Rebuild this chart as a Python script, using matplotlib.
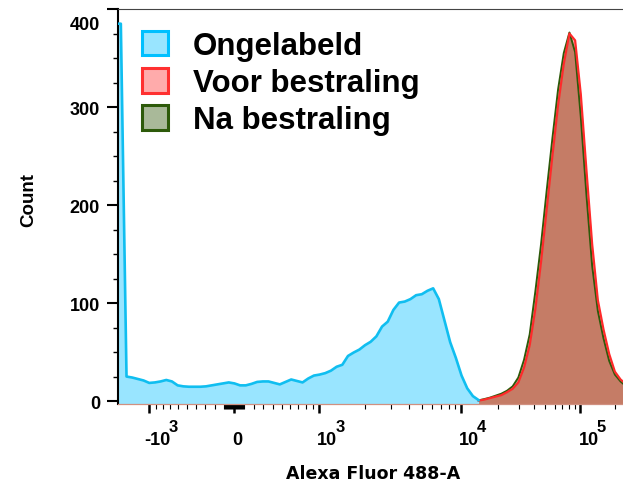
import numpy as np
import matplotlib
matplotlib.use("Agg")
import matplotlib.pyplot as plt
from matplotlib.patches import Patch
from matplotlib import transforms

# ---------------- data (counts per logicle display bin) ----------------
series_names = ["Ongelabeld", "Voor bestraling", "Na bestraling"]
n_bins = 90
ongelabeld = [385, 25, 24, 22.5, 21, 18.5, 19, 20, 21.5, 20,
              16, 15, 14.6, 14.6, 14.6, 15, 16, 17, 18, 19,
              18, 16, 16, 17.5, 19.5, 20, 20, 18.5, 17, 19.5,
              22, 20.5, 19, 23, 26, 27, 28.5, 31, 35, 37,
              46, 49.5, 52.5, 57, 60.5, 66, 76, 81, 93, 100.5,
              101.5, 104, 108, 109, 112.5, 115, 104, 82, 60, 44,
              26, 13, 5, 1] + [0] * 26
voor = [0] * 63 + [0.5, 1.5, 3, 4.5, 6, 9, 12.5, 19, 34, 57,
                   94, 142, 196, 250, 302, 344, 375, 368, 313, 235,
                   160, 103, 73, 48, 30, 22, 17]
na = [0] * 63 + [0.7, 2, 3.5, 5.5, 7.5, 10.5, 15, 24, 42, 68,
                 112, 160, 215, 268, 318, 355, 376, 356, 290, 210,
                 138, 92, 64, 41, 27, 20, 15]

x_major = [-1000, 0, 1000, 10000, 100000]
x_major_base = ["-10", "0", "10", "10", "10"]
x_major_exp = ["3", "", "3", "4", "5"]
x_minor = ([-v for v in range(900, 0, -100)] + [-v for v in range(90, 0, -10)]
           + list(range(10, 100, 10)) + list(range(100, 1000, 100))
           + list(range(2000, 10000, 1000)) + list(range(20000, 100000, 10000)) + [200000])
y_major = [0, 100, 200, 300, 400]

# ---------------- logicle scale ----------------
T, M, W = 262144.0, 4.5, 1.05


def solve_p(w):
    lo, hi = 1.0001, 100.0
    for _ in range(200):
        mid = 0.5 * (lo + hi)
        if 2 * mid * np.log10(mid) / (mid + 1) < w:
            lo = mid
        else:
            hi = mid
    return 0.5 * (lo + hi)


P = solve_p(W)
A = T * 10 ** (-(M - W))


def logicle_S(y):
    y = np.asarray(y, float)
    u = y - W
    a = np.abs(u)
    v = A * (10 ** a - P * P * 10 ** (-a / P) + P * P - 1)
    return np.sign(u) * v


grid_y = np.linspace(-1.0, 5.5, 60001)
grid_S = logicle_S(grid_y)


def fwd(x):
    return np.interp(np.asarray(x, float), grid_S, grid_y)


def inv(y):
    return np.interp(np.asarray(y, float), grid_y, grid_S)


y_lo = 0.035
edges = np.linspace(y_lo, M, n_bins + 1)
centers = 0.5 * (edges[:-1] + edges[1:])
x_centers = logicle_S(centers)

# ---------------- figure ----------------
W_PX, H_PX = 623, 485
fig = plt.figure(figsize=(W_PX / 100, H_PX / 100), dpi=100)
ax_left, ax_right_px = 118, 118 + 510.8
ax_top, ax_bot = 10, 404.5
ax = fig.add_axes([ax_left / W_PX, (H_PX - ax_bot) / H_PX,
                   (ax_right_px - ax_left) / W_PX, (ax_bot - ax_top) / H_PX])
ax.set_xscale("function", functions=(fwd, inv))
ax.set_xlim(logicle_S(y_lo), T)
ybottom = -2.5
ax.set_ylim(ybottom, 400)

ARIAL = "Liberation Sans"


def draw(counts, line_c, fill_c, lw, first_edge=False):
    c = np.asarray(counts, float)
    idx = np.nonzero(c > 0)[0]
    xs = list(x_centers[idx])
    ys = list(c[idx])
    if first_edge and idx[0] == 0:
        xs = [logicle_S(y_lo)] + xs
        ys = [ys[0]] + ys
    ax.fill_between(xs, ybottom, ys, color=fill_c, lw=0, zorder=2)
    ax.plot(xs, ys, color=line_c, lw=lw, zorder=3, solid_joinstyle="round")


na_fill = (40 / 255, 80 / 255, 0, 0.40)
voor_fill = (1, 0, 0, 0.33)
ong_fill = (0, 190 / 255, 1, 0.40)
draw(na, "#2D5A0A", na_fill, 1.4)
draw(voor, "#FF2A2A", voor_fill, 1.6)
draw(ongelabeld, "#10BEF0", ong_fill, 1.9, first_edge=True)

# spines
ax.spines["right"].set_visible(False)
ax.spines["left"].set_linewidth(1.5)
ax.spines["left"].set_color("black")
ax.spines["top"].set_linewidth(0.8)
ax.spines["top"].set_color("#444444")
ax.spines["bottom"].set_linewidth(0.9)
ax.spines["bottom"].set_color("#D09080")

# y ticks
ax.set_yticks(y_major)
ax.set_yticks(np.arange(0, 401, 25), minor=True)
ax.tick_params(axis="y", which="major", length=7.9, width=1.5, pad=5,
               labelsize=13, direction="out", colors="black")
ax.tick_params(axis="y", which="minor", length=3.6, width=1.0, direction="out")
for lab in ax.get_yticklabels():
    lab.set_fontfamily(ARIAL)
    lab.set_fontweight("bold")
ylabs = ax.get_yticklabels()
ylabs[-1].set_transform(ylabs[-1].get_transform() +
                        transforms.ScaledTranslation(0, -13 / 100, fig.dpi_scale_trans))

# x ticks
ax.set_xticks(x_major)
ax.set_xticks(x_minor, minor=True)
ax.tick_params(axis="x", which="major", length=6.5, width=1.8, direction="out",
               labelbottom=False)
ax.tick_params(axis="x", which="minor", length=3.6, width=0.8, direction="out")

base_tr = transforms.blended_transform_factory(ax.transData, ax.transAxes)
for xv, b, e in zip(x_major, x_major_base, x_major_exp):
    if e == "":
        tr = transforms.offset_copy(base_tr, fig=fig, x=3, y=-41, units="dots")
        ax.text(xv, 0, b, transform=tr, ha="center", va="baseline",
                fontsize=13, fontweight="bold", family=ARIAL)
    else:
        dx = -5 if b.startswith("-") else -2
        tr = transforms.offset_copy(base_tr, fig=fig, x=dx, y=-41, units="dots")
        t = ax.text(xv, 0, b, transform=tr, ha="left", va="baseline",
                    fontsize=13, fontweight="bold", family=ARIAL)
        ax.annotate(e, xy=(1, 0), xycoords=t, xytext=(-2, 17.5),
                    textcoords="offset pixels", ha="left", va="baseline",
                    fontsize=12, fontweight="bold", family=ARIAL)

# axis labels
ax.set_xlabel("Alexa Fluor 488-A", fontsize=12.5, fontweight="bold",
              family="DejaVu Sans")
ax.xaxis.set_label_coords(0.5, (ax_bot - 479) / (ax_bot - ax_top))
ax.xaxis.label.set_va("baseline")
ax.set_ylabel("Count", fontsize=13.5, fontweight="bold", family=ARIAL)
ax.yaxis.set_label_coords((28.5 - ax_left) / (ax_right_px - ax_left),
                          (ax_bot - 200) / (ax_bot - ax_top))
ax.yaxis.label.set_va("center")

# legend
handles = [
    Patch(facecolor=ong_fill, edgecolor="#00C0FF", linewidth=2.2),
    Patch(facecolor=voor_fill, edgecolor="#FF3030", linewidth=2.2),
    Patch(facecolor=na_fill, edgecolor="#2D5A0A", linewidth=2.2),
]
leg = fig.legend(handles, series_names, loc="upper left",
                 bbox_to_anchor=(142 / W_PX, 1 - 32 / H_PX),
                 bbox_transform=fig.transFigure, frameon=False,
                 borderpad=0, borderaxespad=0, labelspacing=0.23,
                 handlelength=0.82, handleheight=0.82, handletextpad=0.82,
                 prop={"family": ARIAL, "weight": "bold", "size": 22.5})

fig.savefig("out.png", dpi=100)
